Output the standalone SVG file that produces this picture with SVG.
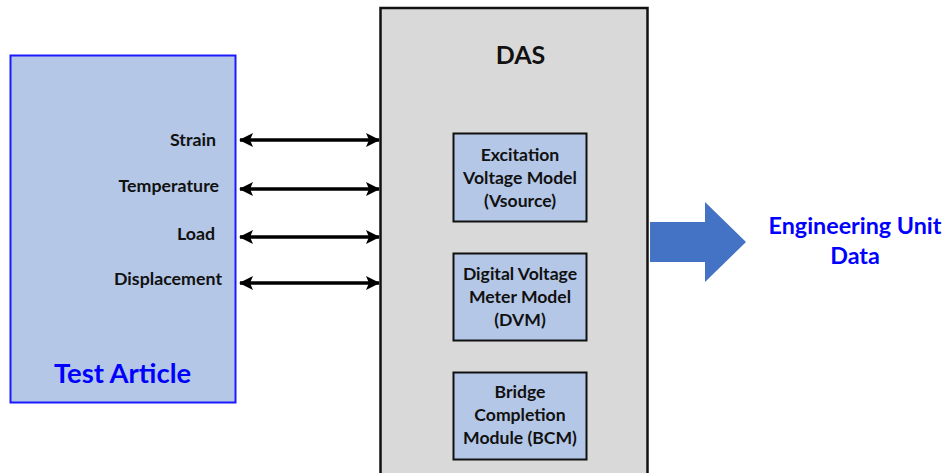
<svg xmlns="http://www.w3.org/2000/svg" width="948" height="473" viewBox="0 0 948 473">
  <defs>
    <marker id="head" viewBox="0 0 14 14" refX="13" refY="7" markerWidth="14" markerHeight="14" markerUnits="userSpaceOnUse" orient="auto-start-reverse">
      <path d="M0,0 L14,7 L0,14 L3,7 Z" fill="#000"/>
    </marker>
    <style>
      .lbl { font-family: Lato, "Open Sans", "Liberation Sans", sans-serif; font-weight: bold; fill: #111; }
      .sig { font-size: 17.8px; text-anchor: end; }
      .mod { font-size: 17.6px; text-anchor: middle; }
      .modbox { fill: #b4c7e7; stroke: #111; stroke-width: 2; }
      .link { stroke: #000; stroke-width: 3.5; fill: none; marker-start: url(#head); marker-end: url(#head); }
      .blue { fill: #0000ff; }
    </style>
  </defs>
  <rect width="948" height="473" fill="#fff"/>

  <!-- Test article block -->
  <g id="test-article">
    <rect x="10.5" y="55.5" width="225" height="347" fill="#b4c7e7" stroke="#1a1aff" stroke-width="2"/>
    <text class="lbl blue" x="122.5" y="383" font-size="27.4" text-anchor="middle">Test Article</text>
    <text class="lbl sig" x="216" y="146">Strain</text>
    <text class="lbl sig" x="219" y="192">Temperature</text>
    <text class="lbl sig" x="215" y="240">Load</text>
    <text class="lbl sig" x="222" y="285">Displacement</text>
  </g>

  <!-- Data acquisition system -->
  <g id="das">
    <rect x="380.5" y="8" width="267" height="470" fill="#d9d9d9" stroke="#111" stroke-width="2.5"/>
    <text class="lbl" x="520.5" y="64" font-size="25" text-anchor="middle">DAS</text>
  </g>

  <g id="excitation">
    <rect class="modbox" x="453.5" y="133.5" width="133" height="88"/>
    <text class="lbl mod" x="520" y="161">Excitation</text>
    <text class="lbl mod" x="520" y="184">Voltage Model</text>
    <text class="lbl mod" x="520" y="207">(Vsource)</text>
  </g>

  <g id="dvm">
    <rect class="modbox" x="453.5" y="253.5" width="133" height="87"/>
    <text class="lbl mod" x="520" y="280">Digital Voltage</text>
    <text class="lbl mod" x="520" y="303">Meter Model</text>
    <text class="lbl mod" x="520" y="326">(DVM)</text>
  </g>

  <g id="bcm">
    <rect class="modbox" x="453.5" y="372.5" width="133" height="87"/>
    <text class="lbl mod" x="520" y="398">Bridge</text>
    <text class="lbl mod" x="520" y="421">Completion</text>
    <text class="lbl mod" x="520" y="444">Module (BCM)</text>
  </g>

  <!-- Output -->
  <g id="output">
    <text class="lbl blue" x="855" y="234" font-size="23.3" text-anchor="middle">Engineering Unit</text>
    <text class="lbl blue" x="855" y="264" font-size="23.3" text-anchor="middle">Data</text>
  </g>

  <!-- Connectors -->
  <g id="connectors">
    <line class="link" x1="240" y1="140" x2="379" y2="140"/>
    <line class="link" x1="240" y1="189" x2="379" y2="189"/>
    <line class="link" x1="240" y1="237" x2="379" y2="237"/>
    <line class="link" x1="240" y1="283" x2="379" y2="283"/>
    <path d="M650,222 H705 V202 L746,242 L705,282 V262 H650 Z" fill="#4472c4"/>
  </g>
</svg>
